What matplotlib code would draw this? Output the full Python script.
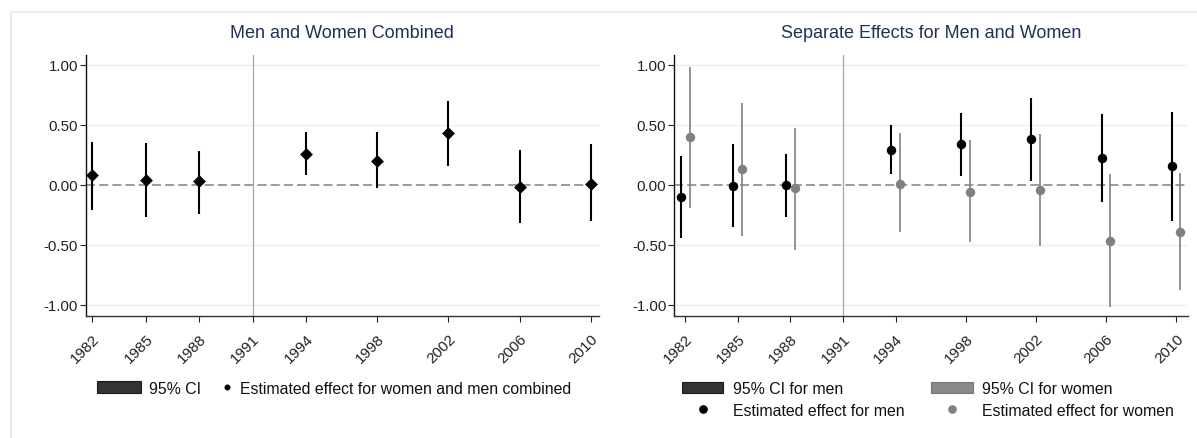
import matplotlib
matplotlib.use("Agg")
import matplotlib.pyplot as plt
from matplotlib.patches import Rectangle
from matplotlib.lines import Line2D

plt.rcParams['font.family'] = ['Liberation Sans', 'DejaVu Sans']
plt.rcParams['lines.scale_dashes'] = False

# survey years with estimates, plus the tick years (1991 marks the break)
years = [1982, 1985, 1988, 1994, 1998, 2002, 2006, 2010]
tick_years = [1982, 1985, 1988, 1991, 1994, 1998, 2002, 2006, 2010]
break_year = 1991
yticks = [-1.0, -0.5, 0.0, 0.5, 1.0]

# men and women combined
comb_est = [0.08, 0.04, 0.03, 0.26, 0.20, 0.43, -0.02, 0.01]
comb_lo = [-0.21, -0.27, -0.24, 0.08, -0.03, 0.16, -0.32, -0.30]
comb_hi = [0.36, 0.35, 0.28, 0.44, 0.44, 0.70, 0.29, 0.34]

# separate effects
men_est = [-0.10, -0.01, 0.00, 0.29, 0.34, 0.38, 0.22, 0.16]
men_lo = [-0.44, -0.35, -0.27, 0.09, 0.07, 0.03, -0.14, -0.30]
men_hi = [0.24, 0.34, 0.26, 0.50, 0.60, 0.72, 0.59, 0.61]

women_est = [0.40, 0.13, -0.03, 0.01, -0.06, -0.04, -0.47, -0.39]
women_lo = [-0.19, -0.43, -0.54, -0.39, -0.48, -0.51, -1.02, -0.88]
women_hi = [0.98, 0.68, 0.47, 0.43, 0.37, 0.42, 0.09, 0.10]

W, H = 1197, 439
fig = plt.figure(figsize=(W / 100, H / 100), dpi=100)
fig.patch.set_facecolor('white')

TITLE_C = '#1f3158'
GREY = '#808080'


def box(x0, y0, x1, y1):
    # pixel box (from top-left) -> figure fraction rect
    return [x0 / W, 1 - y1 / H, (x1 - x0) / W, (y1 - y0) / H]


def px(x, y):
    return x / W, 1 - y / H


def style(ax, xlim):
    ax.set_xlim(*xlim)
    ax.set_ylim(-1.09, 1.085)
    for s in ['top', 'right']:
        ax.spines[s].set_visible(False)
    ax.spines['left'].set_color('#111111')
    ax.spines['bottom'].set_color('#333333')
    ax.spines['left'].set_linewidth(1.0)
    ax.spines['bottom'].set_linewidth(1.0)
    ax.set_yticks(yticks)
    ax.set_yticklabels(['%.2f' % v for v in yticks])
    ax.set_xticks(tick_years)
    ax.set_xticklabels([str(y) for y in tick_years], rotation=45, ha='right',
                       rotation_mode='anchor')
    ax.tick_params(axis='y', length=4.5, width=0.8, pad=1, labelsize=10.8,
                   colors='#222222')
    ax.tick_params(axis='x', length=4.0, width=0.8, pad=7, labelsize=11,
                   colors='#222222')
    for v in yticks:
        if v != 0:
            ax.axhline(v, color='#e9eff2', lw=1.0, zorder=0)
    ax.axhline(0, color=GREY, lw=1.1, dashes=(6.5, 3), zorder=1)
    ax.axvline(break_year, color='#a5a5a5', lw=0.9, zorder=1)


# left panel
ax1 = fig.add_axes(box(85.7, 55.5, 598.6, 316.7))
style(ax1, (1981.63, 2010.43))
ax1.vlines(years, comb_lo, comb_hi, color='black', lw=1.5, zorder=3)
ax1.plot(years, comb_est, linestyle='none', marker='D', ms=6.2,
         color='black', mec='black', mew=0.4, zorder=4)

# right panel
ax2 = fig.add_axes(box(674.0, 55.5, 1188.3, 316.7))
style(ax2, (1981.36, 2010.70))
men_x = [y - 0.25 for y in years]
women_x = [y + 0.25 for y in years]
ax2.vlines(women_x, women_lo, women_hi, color=GREY, lw=1.2, zorder=3)
ax2.vlines(men_x, men_lo, men_hi, color='black', lw=1.5, zorder=3)
ax2.plot(women_x, women_est, linestyle='none', marker='o', ms=5.8,
         color=GREY, mec=GREY, zorder=4)
ax2.plot(men_x, men_est, linestyle='none', marker='o', ms=5.8,
         color='black', zorder=4)

# titles
fig.text(*px(342.0, 37.7), 'Men and Women Combined', ha='center',
         va='baseline', fontsize=13, color=TITLE_C)
fig.text(*px(931.0, 37.7), 'Separate Effects for Men and Women', ha='center',
         va='baseline', fontsize=13, color=TITLE_C)

# light frame around the graph region
fig.add_artist(Line2D([10.5 / W, 1.0], [1 - 13 / H] * 2, transform=fig.transFigure,
                      color='#e3ebf0', lw=1.3))
fig.add_artist(Line2D([10.5 / W] * 2, [1 - 13 / H, 0.0], transform=fig.transFigure,
                      color='#e3ebf0', lw=1.3))

LEG_FS = 11.4


def leg_patch(x0, x1, y0, y1, fc, ec):
    fig.add_artist(Rectangle(px(x0, y1), (x1 - x0) / W, (y1 - y0) / H,
                             transform=fig.transFigure, facecolor=fc,
                             edgecolor=ec, lw=0.8))


def leg_dot(x, y, color, ms):
    fig.add_artist(Line2D([x / W], [1 - y / H], transform=fig.transFigure,
                          marker='o', ms=ms, color=color, mec=color,
                          linestyle='none'))


def leg_text(x, y, s):
    fig.text(*px(x, y), s, ha='left', va='baseline', fontsize=LEG_FS,
             color='#111111')


# left legend
leg_patch(97, 141, 382, 394, '#333333', '#1a1a1a')
leg_text(149.3, 394.0, '95% CI')
leg_dot(227.3, 388.0, 'black', 3.3)
leg_text(240.0, 394.0, 'Estimated effect for women and men combined')

# right legend
leg_patch(682.3, 723.3, 382.7, 394.3, '#333333', '#1a1a1a')
leg_text(732.7, 394.3, '95% CI for men')
leg_patch(930.7, 972.7, 382.7, 394.3, '#8a8a8a', '#777777')
leg_text(981.7, 394.3, '95% CI for women')
leg_dot(702.7, 410.0, 'black', 5.2)
leg_text(733.3, 416.5, 'Estimated effect for men')
leg_dot(951.7, 410.0, GREY, 5.2)
leg_text(982.0, 416.5, 'Estimated effect for women')

fig.savefig('out.png', dpi=100)
